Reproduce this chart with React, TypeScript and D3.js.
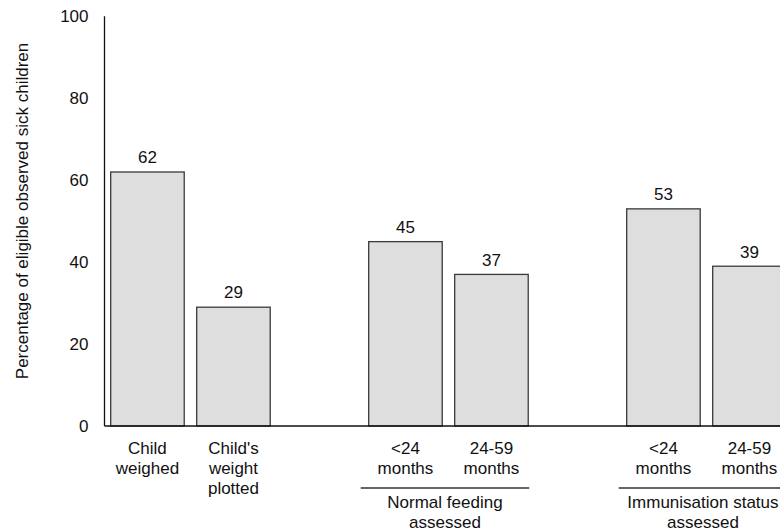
import React from "react";
import * as d3 from "d3";

const categories: string[][] = [
  ["Child", "weighed"],
  ["Child's", "weight", "plotted"],
  [],
  ["<24", "months"],
  ["24-59", "months"],
  [],
  ["<24", "months"],
  ["24-59", "months"],
];
const slotIds = ["s0", "s1", "s2", "s3", "s4", "s5", "s6", "s7"];
const values: (number | null)[] = [62, 29, null, 45, 37, null, 53, 39];
const groups = [
  { from: 3, to: 4, label: ["Normal feeding", "assessed"] },
  { from: 6, to: 7, label: ["Immunisation status", "assessed"] },
];
const yTicks = [0, 20, 40, 60, 80, 100];
const yTitle = "Percentage of eligible observed sick children";

const W = 780;
const H = 532;
const FONT = "'Liberation Sans', Arial, Helvetica, sans-serif";
const FS = 17;

export default function App() {
  const axisX = 104.5;
  const baseY = 426;
  const y = d3.scaleLinear().domain([0, 100]).range([baseY, 16.3]);
  const x = d3
    .scaleBand<string>()
    .domain(slotIds)
    .range([axisX, axisX + 86 * 7.999])
    .paddingInner(0.145)
    .paddingOuter(0.072);
  const bw = x.bandwidth();

  return (
    <div style={{ position: "fixed", left: 0, top: 0 }}>
      <svg width={W} height={H} style={{ display: "block", background: "#fff" }} fontFamily={FONT}>
        {/* bars */}
        {values.map((v, i) =>
          v == null ? null : (
            <g key={i}>
              <rect
                x={x(slotIds[i])!}
                y={y(v)}
                width={bw}
                height={baseY - y(v)}
                fill="#dedede"
                stroke="#3a3a3a"
                strokeWidth={1.3}
              />
              <text
                x={x(slotIds[i])! + bw / 2}
                y={y(v) - 8.7}
                textAnchor="middle"
                fontSize={FS}
                fill="#111"
              >
                {v}
              </text>
            </g>
          )
        )}
        {/* axes */}
        <line x1={axisX} x2={axisX} y1={y(100)} y2={baseY} stroke="#111" strokeWidth={1.3} />
        <line x1={axisX} x2={W + 20} y1={baseY} y2={baseY} stroke="#111" strokeWidth={1.3} />
        {yTicks.map((t) => (
          <text
            key={t}
            x={88.5}
            y={y(t) + FS * 0.35}
            textAnchor="end"
            fontSize={FS}
            fill="#111"
          >
            {t}
          </text>
        ))}
        <text
          transform={`translate(28,211) rotate(-90)`}
          textAnchor="middle"
          fontSize={FS}
          fill="#111"
        >
          {yTitle}
        </text>
        {/* category labels */}
        {categories.map((lines, i) =>
          lines.map((ln, j) => (
            <text
              key={i + "-" + j}
              x={x(slotIds[i])! + bw / 2}
              y={453.5 + j * 20}
              textAnchor="middle"
              fontSize={FS}
              fill="#111"
            >
              {ln}
            </text>
          ))
        )}
        {/* group labels */}
        {groups.map((g, k) => {
          const x1 = x(slotIds[g.from])! - 8;
          const x2 = x(slotIds[g.to])! + bw + 1;
          const cx = (x1 + x2) / 2;
          return (
            <g key={k}>
              <line x1={x1} x2={x2} y1={488} y2={488} stroke="#333" strokeWidth={1.3} />
              {g.label.map((ln, j) => (
                <text
                  key={j}
                  x={cx}
                  y={507.5 + j * 20}
                  textAnchor="middle"
                  fontSize={FS}
                  fill="#111"
                >
                  {ln}
                </text>
              ))}
            </g>
          );
        })}
      </svg>
    </div>
  );
}
